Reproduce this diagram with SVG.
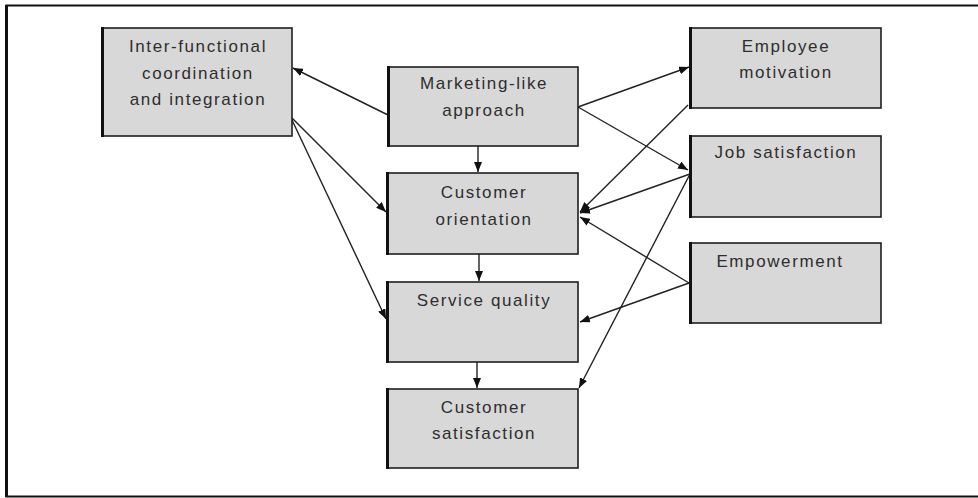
<svg xmlns="http://www.w3.org/2000/svg" width="978" height="498" viewBox="0 0 978 498">
<style>
.box{fill:#d8d8d8;stroke:#1e1e1e;stroke-width:1.6}
.edge{stroke:#111;stroke-width:3}
.t{font-family:"Liberation Sans",Arial,sans-serif;font-size:17px;fill:#2e2e2e;text-anchor:middle;letter-spacing:1.6px}
.c{stroke:#222;stroke-width:1.4;fill:none;marker-end:url(#ah)}
</style>
<defs>
<marker id="ah" viewBox="0 0 10 8" refX="10" refY="4" markerWidth="10" markerHeight="8" markerUnits="userSpaceOnUse" orient="auto">
<path d="M0,0 L10,4 L0,8 z" fill="#111"/>
</marker>
</defs>
<rect width="978" height="498" fill="#fff"/>
<rect x="6.5" y="5.5" width="985" height="491" fill="none" stroke="#111" stroke-width="2"/>
<line x1="6.5" y1="5" x2="6.5" y2="497" stroke="#111" stroke-width="3"/>

<g id="connectors">
<line class="c" x1="388" y1="115" x2="293" y2="68"/>
<line class="c" x1="478" y1="146" x2="478" y2="172"/>
<line class="c" x1="292" y1="118" x2="386" y2="212"/>
<line class="c" x1="292" y1="120" x2="386" y2="319"/>
<line class="c" x1="479" y1="254" x2="479" y2="281"/>
<line class="c" x1="477" y1="362" x2="477" y2="388"/>
<line class="c" x1="578" y1="107" x2="689" y2="67"/>
<line class="c" x1="578" y1="107" x2="688" y2="170"/>
<line class="c" x1="688" y1="105" x2="580" y2="212"/>
<line class="c" x1="690" y1="174" x2="580" y2="213"/>
<line class="c" x1="689" y1="283" x2="580" y2="217"/>
<line class="c" x1="689" y1="283" x2="580" y2="322"/>
<line class="c" x1="690" y1="174" x2="579" y2="388"/>
</g>

<g id="interfunctional">
<rect class="box" x="102" y="28" width="190" height="108"/>
<line class="edge" x1="102.5" y1="27" x2="102.5" y2="137"/>
<text class="t" x="198" y="52">Inter-functional</text>
<text class="t" x="198" y="79">coordination</text>
<text class="t" x="198" y="105">and integration</text>
</g>

<g id="marketing">
<rect class="box" x="388" y="67" width="190" height="79"/>
<line class="edge" x1="388.5" y1="66" x2="388.5" y2="147"/>
<text class="t" x="484" y="89">Marketing-like</text>
<text class="t" x="484" y="116">approach</text>
</g>

<g id="customer-orientation">
<rect class="box" x="387" y="173" width="191" height="81"/>
<line class="edge" x1="387.5" y1="172" x2="387.5" y2="255"/>
<text class="t" x="484" y="198">Customer</text>
<text class="t" x="484" y="225">orientation</text>
</g>

<g id="service-quality">
<rect class="box" x="387" y="282" width="191" height="80"/>
<line class="edge" x1="387.5" y1="281" x2="387.5" y2="363"/>
<text class="t" x="484" y="306">Service quality</text>
</g>

<g id="customer-satisfaction">
<rect class="box" x="387" y="389" width="191" height="79"/>
<line class="edge" x1="387.5" y1="388" x2="387.5" y2="469"/>
<text class="t" x="484" y="413">Customer</text>
<text class="t" x="484" y="439">satisfaction</text>
</g>

<g id="employee-motivation">
<rect class="box" x="690" y="28" width="191" height="80"/>
<line class="edge" x1="690.5" y1="27" x2="690.5" y2="109"/>
<text class="t" x="786" y="52">Employee</text>
<text class="t" x="786" y="78">motivation</text>
</g>

<g id="job-satisfaction">
<rect class="box" x="690" y="136" width="191" height="81"/>
<line class="edge" x1="690.5" y1="135" x2="690.5" y2="218"/>
<text class="t" x="786" y="158">Job satisfaction</text>
</g>

<g id="empowerment">
<rect class="box" x="690" y="243" width="191" height="80"/>
<line class="edge" x1="690.5" y1="242" x2="690.5" y2="324"/>
<text class="t" x="780" y="267">Empowerment</text>
</g>
</svg>
